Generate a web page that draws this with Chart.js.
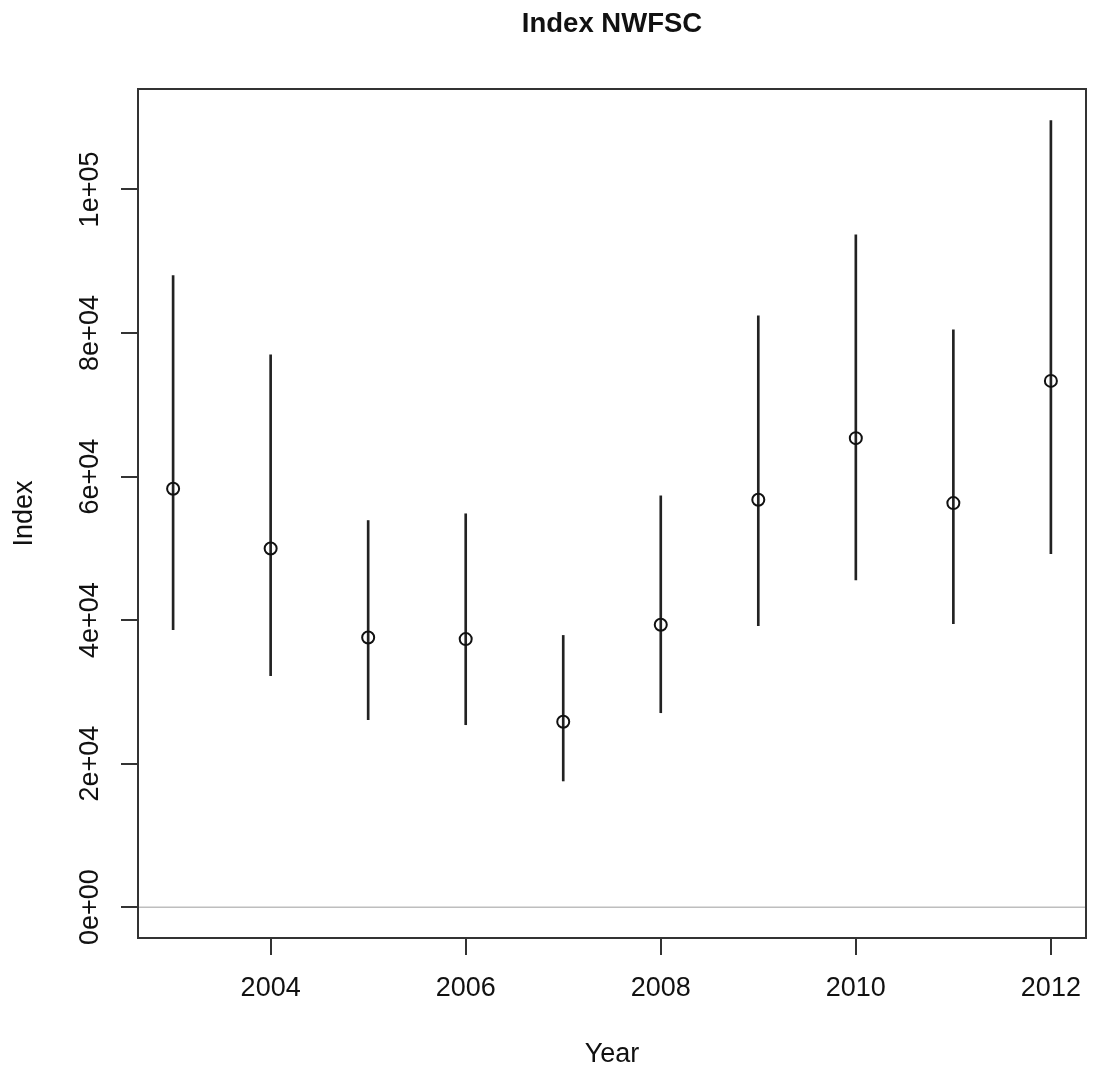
<!DOCTYPE html>
<html><head><meta charset="utf-8">
<script src="https://cdn.jsdelivr.net/npm/chart.js@4/dist/chart.umd.min.js"></script>
<style>html,body{margin:0;padding:0;background:#fff}canvas{display:block}</style>
</head><body>
<canvas id="c" width="1094" height="1078"></canvas>
<script>
const years = [2003, 2004, 2005, 2006, 2007, 2008, 2009, 2010, 2011, 2012];
const indexValues = [58290, 49970, 37580, 37350, 25840, 39350, 56760, 65350, 56300, 73330];
const lowerValues = [38650, 32240, 26120, 25420, 17580, 27090, 39210, 45610, 39490, 49240];
const upperValues = [88000, 76950, 53870, 54810, 37860, 57310, 82390, 93670, 80430, 109590];
const xTicks = [2004, 2006, 2008, 2010, 2012];
const yTicks = [0, 20000, 40000, 60000, 80000, 100000];
const yTickLabels = ['0e+00', '2e+04', '4e+04', '6e+04', '8e+04', '1e+05'];
const titleText = 'Index NWFSC';
const xTitle = 'Year';
const yTitle = 'Index';

const FONT = '"Liberation Sans", Arial, Helvetica, sans-serif';

const deco = {
  id: 'deco',
  beforeDatasetsDraw(chart) {
    const {ctx, chartArea: a, scales: {y}} = chart;
    const py = y.getPixelForValue(0);
    ctx.save();
    ctx.strokeStyle = '#bebebe';
    ctx.lineWidth = 1.5;
    ctx.beginPath();
    ctx.moveTo(a.left, py);
    ctx.lineTo(a.right, py);
    ctx.stroke();
    ctx.restore();
  },
  afterDraw(chart) {
    const {ctx, chartArea: a} = chart;
    ctx.save();
    ctx.strokeStyle = '#333';
    ctx.lineWidth = 2;
    ctx.strokeRect(a.left, a.top, a.right - a.left, a.bottom - a.top);
    ctx.fillStyle = '#111';
    ctx.textAlign = 'center';
    ctx.textBaseline = 'middle';
    const cx = (a.left + a.right) / 2;
    ctx.font = 'bold 27.5px ' + FONT;
    ctx.fillText(titleText, cx, 24);
    ctx.font = '27px ' + FONT;
    ctx.fillText(xTitle, cx, 1055);
    ctx.translate(25, (a.top + a.bottom) / 2);
    ctx.rotate(-Math.PI / 2);
    ctx.fillText(yTitle, 0, 0);
    ctx.restore();
  }
};

new Chart(document.getElementById('c'), {
  type: 'scatter',
  data: {
    datasets: [
      {
        type: 'bar',
        data: years.map((yr, i) => ({x: yr, y: [lowerValues[i], upperValues[i]]})),
        backgroundColor: '#222',
        borderWidth: 0,
        barThickness: 2,
        order: 2
      },
      {
        type: 'scatter',
        data: years.map((yr, i) => ({x: yr, y: indexValues[i]})),
        pointRadius: 6,
        pointBorderWidth: 2,
        pointBorderColor: '#111',
        pointBackgroundColor: 'rgba(0,0,0,0)',
        order: 1
      }
    ]
  },
  options: {
    responsive: false,
    devicePixelRatio: 1,
    animation: false,
    layout: {padding: {left: 0, right: 8, top: 89, bottom: 0}},
    plugins: {legend: {display: false}, tooltip: {enabled: false}, title: {display: false}},
    scales: {
      x: {
        type: 'linear',
        offset: false,
        min: 2002.64,
        max: 2012.36,
        afterBuildTicks: s => { s.ticks = xTicks.map(v => ({value: v})); },
        afterFit: s => { s.height = 140; s.paddingLeft = 0; s.paddingRight = 0; },
        grid: {display: true, offset: false, drawOnChartArea: false, drawTicks: true, tickLength: 17, color: '#333', lineWidth: 2},
        border: {display: false},
        ticks: {
          font: {family: FONT, size: 27},
          color: '#111',
          padding: 17,
          maxRotation: 0,
          callback: v => String(v)
        }
      },
      y: {
        type: 'linear',
        min: -4300,
        max: 114000,
        afterBuildTicks: s => { s.ticks = yTicks.map(v => ({value: v})); },
        afterFit: s => { s.width = 138; s.paddingTop = 0; s.paddingBottom = 0; },
        grid: {display: true, drawOnChartArea: false, drawTicks: true, tickLength: 17, color: '#333', lineWidth: 2},
        border: {display: false},
        ticks: {
          font: {family: FONT, size: 27},
          color: '#111',
          minRotation: 90,
          maxRotation: 90,
          crossAlign: 'center',
          padding: -7,
          callback: v => { const k = yTicks.indexOf(v); return k >= 0 ? yTickLabels[k] : ''; }
        }
      }
    }
  },
  plugins: [deco]
});
</script>
</body></html>
